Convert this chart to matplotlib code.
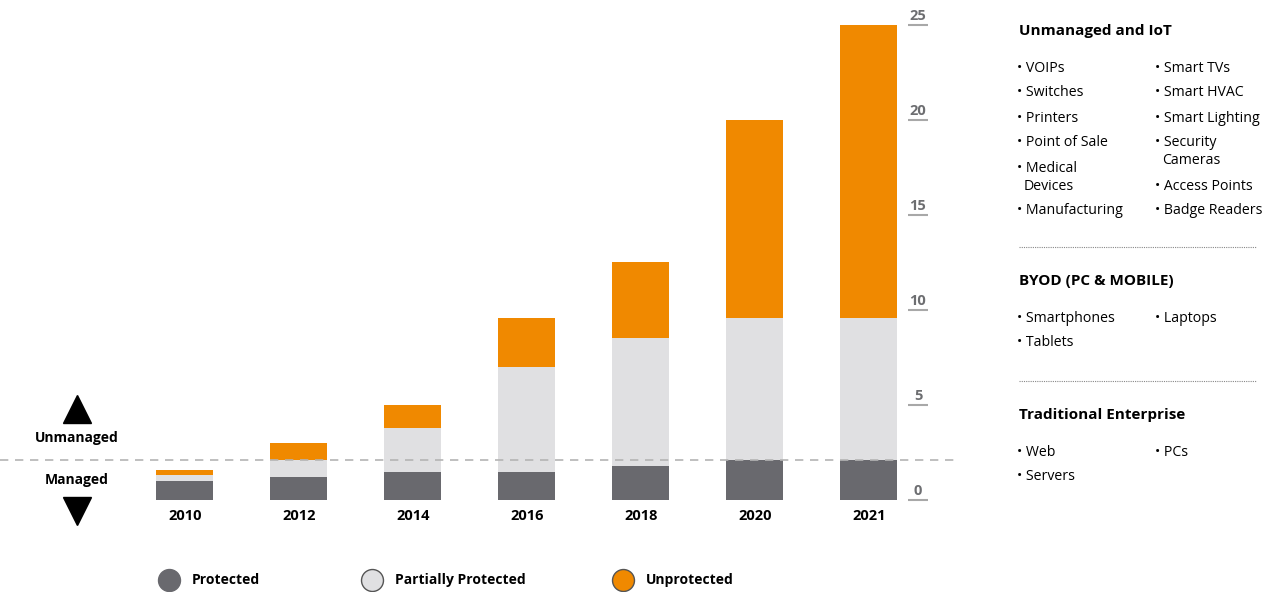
import matplotlib
matplotlib.use("Agg")
import matplotlib.pyplot as plt

plt.rcParams['font.family'] = ['Open Sans', 'DejaVu Sans']

# data
years = ['2010', '2012', '2014', '2016', '2018', '2020', '2021']
protected = [1.0, 1.2, 1.5, 1.5, 1.8, 2.1, 2.1]
partial = [0.3, 0.9, 2.3, 5.5, 6.7, 7.5, 7.5]
unprotected = [0.3, 0.9, 1.2, 2.6, 4.0, 10.4, 15.4]
managed_line = 2.1
yticks = [0, 5, 10, 15, 20, 25]
series_names = ['Protected', 'Partially Protected', 'Unprotected']

iot_col1 = ['VOIPs', 'Switches', 'Printers', 'Point of Sale', 'Medical\nDevices', 'Manufacturing']
iot_col2 = ['Smart TVs', 'Smart HVAC', 'Smart Lighting', 'Security\nCameras', 'Access Points', 'Badge Readers']
byod_col1 = ['Smartphones', 'Tablets']
byod_col2 = ['Laptops']
trad_col1 = ['Web', 'Servers']
trad_col2 = ['PCs']

c_prot = '#69696e'
c_part = '#e0e0e2'
c_unprot = '#f08900'
c_tick = '#6d6e71'

W, H = 1272, 592
fig = plt.figure(figsize=(W / 100, H / 100), dpi=100)
ax = fig.add_axes([0, 0, 958 / W, 1])

# pixel mapping: x index 0 -> 185px, 114 px per step; y 0 -> 500px, 19 px per unit
xpx = 114.0
ypx = 19.0
ax.set_xlim(-185 / xpx, (958 - 185) / xpx)
ax.set_ylim(-(H - 500) / ypx, 500 / ypx)
ax.axis('off')

x = list(range(len(years)))
bw = 0.5
bot2 = [a + b for a, b in zip(protected, partial)]
ax.bar(x, protected, bw, color=c_prot, zorder=2)
ax.bar(x, partial, bw, bottom=protected, color=c_part, zorder=2)
ax.bar(x, unprotected, bw, bottom=bot2, color=c_unprot, zorder=2)

ax.axhline(managed_line, color='#b4b4b4', lw=1.2, ls=(0, (5, 4)), zorder=3)

for i, yr in enumerate(years):
    ax.text(i, -0.85, yr, ha='center', va='center', fontsize=10.5, fontweight='bold')

# y tick labels on the right with underline
tx = (918 - 185) / xpx
for t in yticks:
    ax.text(tx, t + 0.12, str(t), ha='center', va='bottom', fontsize=10.5,
            fontweight='bold', color=c_tick)
    ax.plot([(908 - 185) / xpx, (928 - 185) / xpx], [t, t], color='#a8a8a8', lw=1.5,
            solid_capstyle='butt')

# managed / unmanaged markers
ax_x = (77 - 185) / xpx
ax.plot(ax_x, (500 - 409) / ypx, marker='^', ms=20, color='black', clip_on=False)
ax.plot(ax_x, (500 - 511) / ypx, marker='v', ms=20, color='black', clip_on=False)
ax.text(ax_x, (500 - 438) / ypx, 'Unmanaged', ha='center', va='center', fontsize=10, fontweight='bold')
ax.text(ax_x, (500 - 480) / ypx, 'Managed', ha='center', va='center', fontsize=10, fontweight='bold')

# legend
leg_y = (500 - 580) / ypx
leg_pos = [169, 372, 623]
leg_cols = [c_prot, c_part, c_unprot]
leg_edges = [c_prot, '#555555', '#555555']
for px, nm, col, ec in zip(leg_pos, series_names, leg_cols, leg_edges):
    lx = (px - 185) / xpx
    ax.scatter([lx], [leg_y], s=250, color=col, edgecolors=ec, linewidths=1, clip_on=False, zorder=4)
    ax.text(lx + 23 / xpx, leg_y, nm, ha='left', va='center', fontsize=10, fontweight='bold')

# right panel
def ftext(px, py, s, **kw):
    fig.text(px / W, 1 - py / H, s, va='center', **kw)

def bullets(items, px, rows):
    for s, py in zip(items, rows):
        lines = s.split('\n')
        ftext(px, py, '\u2022 ' + lines[0], fontsize=10.2)
        if len(lines) > 1:
            ftext(px + 7, py + 18, lines[1], fontsize=10.2)

c1, c2 = 1017, 1155
ftext(c1 + 2, 31, 'Unmanaged and IoT', fontsize=11, fontweight='bold')
bullets(iot_col1, c1, [68, 93, 118, 143, 168, 211])
bullets(iot_col2, c2, [68, 93, 118, 143, 186, 211])

for sy in [247, 381]:
    fig.add_artist(plt.Line2D([1019 / W, 1256 / W], [1 - sy / H, 1 - sy / H], color='#888888',
                              lw=0.8, ls=(0, (1, 1))))

ftext(c1 + 2, 281, 'BYOD (PC & MOBILE)', fontsize=11, fontweight='bold')
bullets(byod_col1, c1, [318, 342])
bullets(byod_col2, c2, [318])

ftext(c1 + 2, 415, 'Traditional Enterprise', fontsize=11, fontweight='bold')
bullets(trad_col1, c1, [453, 477])
bullets(trad_col2, c2, [453])

fig.savefig('out.png', dpi=100)
